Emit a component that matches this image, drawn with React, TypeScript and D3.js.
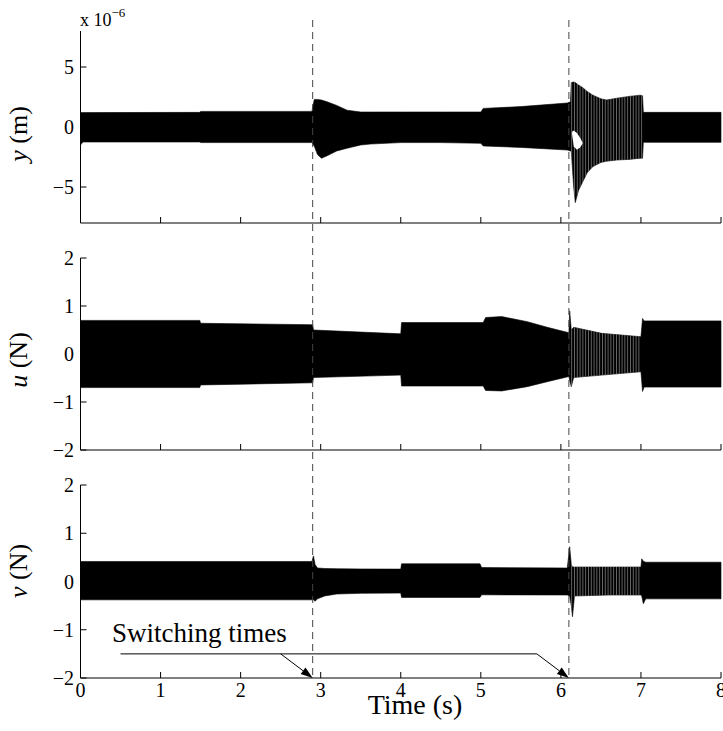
import React from "react";
import * as d3 from "d3";

// ---- data ----
const xTicks = [0, 1, 2, 3, 4, 5, 6, 7, 8];
const switchTimes = [2.9, 6.1];

// y (m), x 1e-6 : envelope of the fast oscillation
const tY = [0, 0.03, 1.49, 1.5, 2.89, 2.92, 2.96, 3.01, 3.08, 3.2, 3.33, 3.5, 3.62, 4.0, 4.5, 5.0, 5.03, 5.5, 6.08, 6.12, 6.13, 6.16, 6.18, 6.22, 6.27, 6.33, 6.4, 6.5, 6.57, 6.7, 6.85, 6.99, 7.02, 7.03, 8.0];
const yHi = [1.2, 1.2, 1.22, 1.3, 1.3, 2.3, 2.3, 2.25, 2.1, 1.8, 1.4, 1.25, 1.25, 1.25, 1.25, 1.25, 1.55, 1.7, 2.0, 2.1, 3.7, 3.75, 3.7, 3.5, 3.3, 2.95, 2.65, 2.35, 2.25, 2.4, 2.55, 2.65, 2.6, 1.22, 1.22];
const yLo = [-1.5, -1.25, -1.25, -1.3, -1.3, -1.6, -2.3, -2.6, -2.4, -2.0, -1.77, -1.5, -1.42, -1.3, -1.3, -1.36, -1.58, -1.7, -1.92, -2.0, -2.0, -5.0, -6.3, -5.3, -4.6, -3.8, -3.3, -2.95, -2.85, -2.75, -2.7, -2.6, -2.6, -1.28, -1.28];
const yTicks = [-5, 0, 5];
const yHoleT = [6.14, 6.16, 6.2, 6.24, 6.27];
const yHoleHi = [-0.4, -0.3, -0.5, -0.9, -1.3];
const yHoleLo = [-0.6, -1.6, -1.9, -1.7, -1.4];

// u (N)
const tU = [0, 1.49, 1.5, 2.9, 2.91, 4.0, 4.01, 5.03, 5.06, 5.26, 5.58, 5.83, 6.1, 6.11, 6.13, 6.16, 6.51, 7.0, 7.02, 7.04, 8.0];
const uHi = [0.7, 0.7, 0.64, 0.61, 0.5, 0.42, 0.655, 0.655, 0.76, 0.78, 0.674, 0.556, 0.444, 0.9, 0.5, 0.556, 0.43, 0.36, 0.74, 0.69, 0.69];
const uLo = [-0.7, -0.7, -0.645, -0.6, -0.49, -0.44, -0.667, -0.667, -0.76, -0.77, -0.68, -0.577, -0.47, -0.55, -0.68, -0.49, -0.44, -0.37, -0.78, -0.69, -0.69];
const uTicks = [-2, -1, 0, 1, 2];

// v (N)
const tV = [0, 2.89, 2.91, 2.93, 2.96, 3.05, 3.2, 3.5, 4.0, 4.01, 4.99, 5.01, 6.08, 6.11, 6.13, 6.145, 6.17, 6.6, 7.0, 7.01, 7.03, 7.06, 8.0];
const vHi = [0.415, 0.415, 0.53, 0.35, 0.28, 0.27, 0.265, 0.26, 0.257, 0.367, 0.367, 0.29, 0.28, 0.72, 0.35, 0.3, 0.3, 0.3, 0.3, 0.47, 0.42, 0.4, 0.4];
const vLo = [-0.38, -0.38, -0.38, -0.41, -0.36, -0.3, -0.26, -0.245, -0.24, -0.33, -0.33, -0.276, -0.28, -0.3, -0.5, -0.73, -0.3, -0.28, -0.28, -0.3, -0.46, -0.36, -0.36];
const vTicks = [-2, -1, 0, 1, 2];

// time ranges where single cycles are visible
const yStripes = [[6.12, 7.02]];
const uStripes = [[6.11, 7.0]];
const vStripes = [[6.12, 7.0]];

// annotation (bottom panel coordinates)
const noteLineT = [0.5, 5.7];
const noteLineV = -1.5;
const arrowFromT = [2.5, 5.7];
const arrowToV = -2;

const FONT = "'Liberation Serif', 'Times New Roman', serif";
const W = 723, H = 731;
const x = d3.scaleLinear().domain([0, 8]).range([80.5, 721]);

const fmt = (v: number) => (v < 0 ? "\u2212" + Math.abs(v) : String(v));

type PanelProps = {
  id: string;
  top: number;
  bottom: number;
  domain: [number, number];
  t: number[];
  hi: number[];
  lo: number[];
  ticks: number[];
  stripes: number[][];
  hole?: { t: number[]; hi: number[]; lo: number[] };
  showXLabels?: boolean;
};

function Panel(p: PanelProps) {
  const y = d3.scaleLinear().domain(p.domain).range([p.bottom, p.top]);
  const idx = p.t.map((_, i) => i);
  const area = d3
    .area<number>()
    .x((i) => x(p.t[i]))
    .y0((i) => y(p.lo[i]))
    .y1((i) => y(p.hi[i]));
  const d = area(idx) || "";
  let holeD = "";
  if (p.hole) {
    const h = p.hole;
    const hi2 = h.t.map((_, i) => i);
    holeD =
      d3
        .area<number>()
        .x((i) => x(h.t[i]))
        .y0((i) => y(h.lo[i]))
        .y1((i) => y(h.hi[i]))(hi2) || "";
  }
  return (
    <g>
      <defs>
        <clipPath id={"clip-" + p.id}>
          <path d={d} />
        </clipPath>
      </defs>
      <path d={d} fill="#000" stroke="#000" strokeWidth={0.6} />
      {p.stripes.map((s, k) => (
        <rect
          key={k}
          x={x(s[0])}
          width={x(s[1]) - x(s[0])}
          y={p.top}
          height={p.bottom - p.top}
          fill="url(#stripes)"
          clipPath={`url(#clip-${p.id})`}
        />
      ))}
      {holeD && <path d={holeD} fill="#fff" />}
      {/* axes */}
      <line x1={x(0)} x2={x(0)} y1={p.top} y2={p.bottom} stroke="#000" strokeWidth={1} />
      <line x1={x(0)} x2={x(8)} y1={p.bottom} y2={p.bottom} stroke="#000" strokeWidth={1} />
      {p.ticks.map((v) => (
        <g key={v}>
          <line x1={x(0)} x2={x(0) + 6} y1={y(v)} y2={y(v)} stroke="#000" strokeWidth={1} />
          <text
            x={74}
            y={y(v)}
            dy="0.36em"
            textAnchor="end"
            fontFamily={FONT}
            fontSize={20}
          >
            {fmt(v)}
          </text>
        </g>
      ))}
      {xTicks.map((t) => (
        <g key={t}>
          <line x1={x(t)} x2={x(t)} y1={p.bottom} y2={p.bottom - 6} stroke="#000" strokeWidth={1} />
          {p.showXLabels && (
            <text x={x(t)} y={p.bottom + 19} textAnchor="middle" fontFamily={FONT} fontSize={20}>
              {t}
            </text>
          )}
        </g>
      ))}
    </g>
  );
}

function Arrow({ x1, y1, x2, y2 }: { x1: number; y1: number; x2: number; y2: number }) {
  const ang = Math.atan2(y2 - y1, x2 - x1);
  const L = 12, Wd = 4;
  const bx = x2 - L * Math.cos(ang), by = y2 - L * Math.sin(ang);
  const px = -Math.sin(ang) * Wd, py = Math.cos(ang) * Wd;
  return (
    <g>
      <line x1={x1} y1={y1} x2={bx} y2={by} stroke="#000" strokeWidth={1} />
      <polygon points={`${x2},${y2} ${bx + px},${by + py} ${bx - px},${by - py}`} fill="#000" />
    </g>
  );
}

export default function App() {
  const vScale = d3.scaleLinear().domain([-2, 2]).range([678, 485]);
  return (
    <svg
      width={W}
      height={H}
      viewBox={`0 0 ${W} ${H}`}
      style={{ position: "absolute", left: 0, top: 0, background: "#fff" }}
    >
      <defs>
        <pattern id="stripes" patternUnits="userSpaceOnUse" width={2.8} height={10}>
          <rect x={0} y={0} width={0.7} height={10} fill="#fff" opacity={0.55} />
        </pattern>
      </defs>
      <rect width={W} height={H} fill="#fff" />
      <Panel
        id="y"
        top={31}
        bottom={223}
        domain={[-8, 8]}
        t={tY}
        hi={yHi}
        lo={yLo}
        ticks={yTicks}
        stripes={yStripes}
        hole={{ t: yHoleT, hi: yHoleHi, lo: yHoleLo }}
      />
      <Panel id="u" top={258} bottom={450} domain={[-2, 2]} t={tU} hi={uHi} lo={uLo} ticks={uTicks} stripes={uStripes} />
      <Panel
        id="v"
        top={485}
        bottom={678}
        domain={[-2, 2]}
        t={tV}
        hi={vHi}
        lo={vLo}
        ticks={vTicks}
        stripes={vStripes}
        showXLabels
      />

      {/* exponent */}
      <text x={80} y={26} fontFamily={FONT} fontSize={18}>
        x 10
        <tspan dy={-9} fontSize={13}>
          {"\u22126"}
        </tspan>
      </text>

      {/* y labels */}
      <text transform="translate(27,134) rotate(-90)" textAnchor="middle" fontFamily={FONT} fontSize={26}>
        <tspan fontStyle="italic">y</tspan> (m)
      </text>
      <text transform="translate(27,360) rotate(-90)" textAnchor="middle" fontFamily={FONT} fontSize={26}>
        <tspan fontStyle="italic">u</tspan> (N)
      </text>
      <text transform="translate(27,571) rotate(-90)" textAnchor="middle" fontFamily={FONT} fontSize={26}>
        <tspan fontStyle="italic">v</tspan> (N)
      </text>

      {/* x label */}
      <text x={415} y={714} textAnchor="middle" fontFamily={FONT} fontSize={28}>
        Time (s)
      </text>

      {/* switching lines */}
      {switchTimes.map((t) => (
        <line
          key={t}
          x1={x(t)}
          x2={x(t)}
          y1={20}
          y2={678}
          stroke="#444"
          strokeWidth={1}
          strokeDasharray="7,5"
        />
      ))}

      {/* annotation */}
      <text x={112} y={642} fontFamily={FONT} fontSize={27}>
        Switching times
      </text>
      <line
        x1={x(noteLineT[0])}
        x2={x(noteLineT[1])}
        y1={vScale(noteLineV)}
        y2={vScale(noteLineV)}
        stroke="#000"
        strokeWidth={1}
      />
      {arrowFromT.map((t, i) => (
        <Arrow
          key={i}
          x1={x(t)}
          y1={vScale(noteLineV)}
          x2={x(switchTimes[i])}
          y2={vScale(arrowToV)}
        />
      ))}
    </svg>
  );
}
